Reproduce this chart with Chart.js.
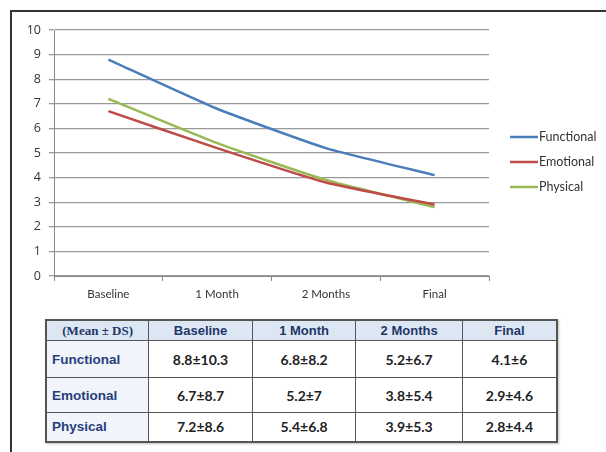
<!DOCTYPE html>
<html>
<head>
<meta charset="utf-8">
<script src="https://cdn.jsdelivr.net/npm/chart.js@4"></script>
<style>
  html, body { margin: 0; padding: 0; background: #fff; }
  body { width: 606px; height: 452px; position: relative; overflow: hidden; }
  .frame {
    position: absolute; left: 10px; top: 10px; right: -10px; bottom: -10px;
    border-top: 2px solid #333; border-left: 2px solid #333;
  }
  #chart-box { position: absolute; left: 0; top: 0; width: 606px; height: 310px; }
  table.stats {
    position: absolute; left: 45px; top: 319px; width: 513px; height: 123px;
    border-collapse: collapse; border: 2px solid #555;
    box-shadow: 1px 1px 2px rgba(0,0,0,0.25);
  }
  table.stats td, table.stats th {
    border: 1.5px solid #555; text-align: center; padding: 0;
    font-family: Lato, "Open Sans", sans-serif; font-weight: bold; font-size: 14px; color: #222;
  }
  table.stats thead th {
    background: #dde7f3; color: #1f3669; height: 19px;
    font-family: "Liberation Sans", Arial, sans-serif; font-size: 13px;
  }
  table.stats thead th.corner { font-family: "Liberation Serif", "Times New Roman", serif; font-size: 13px; }
  table.stats tbody th {
    background: #f1f4fa; color: #263f7c; text-align: left; padding-left: 5px;
    font-family: "Liberation Sans", Arial, sans-serif; font-size: 13.5px;
  }
</style>
</head>
<body>
<div class="frame"></div>
<div id="chart-box"><canvas id="chart"></canvas></div>
<table class="stats" id="stats">
  <colgroup>
    <col style="width:103px"><col style="width:104px"><col style="width:104px"><col style="width:107px"><col style="width:95px">
  </colgroup>
  <thead><tr id="head-row"><th class="corner">(Mean ± DS)</th></tr></thead>
  <tbody id="stats-body"></tbody>
</table>
<script>
// Chart data
const categories = ["Baseline", "1 Month", "2 Months", "Final"];
const functional = [8.8, 6.8, 5.2, 4.1];
const emotional = [6.7, 5.2, 3.8, 2.9];
const physical = [7.2, 5.4, 3.9, 2.8];
const functionalSD = [10.3, 8.2, 6.7, 6];
const emotionalSD = [8.7, 7, 5.4, 4.6];
const physicalSD = [8.6, 6.8, 5.3, 4.4];
const yTicks = [0, 1, 2, 3, 4, 5, 6, 7, 8, 9, 10];

const seriesNames = ["Functional", "Emotional", "Physical"];
const seriesColors = ["#4a7ebb", "#be4b48", "#98b954"];

// Legend drawn at the right side, Excel style
const sideLegend = {
  id: "sideLegend",
  afterDraw(chart) {
    const ctx = chart.ctx;
    ctx.save();
    ctx.font = "12.5px Lato, 'Open Sans', sans-serif";
    ctx.textBaseline = "middle";
    chart.data.datasets.forEach((ds, i) => {
      const y = 137 + i * 25;
      ctx.strokeStyle = ds.borderColor;
      ctx.lineWidth = 2.5;
      ctx.beginPath();
      ctx.moveTo(510, y);
      ctx.lineTo(538, y);
      ctx.stroke();
      ctx.fillStyle = "#333";
      ctx.fillText(ds.label, 539, y);
    });
    ctx.restore();
  }
};

const ctx = document.getElementById("chart").getContext("2d");
new Chart(ctx, {
  type: "line",
  data: {
    labels: categories,
    datasets: [functional, emotional, physical].map((d, i) => ({
      label: seriesNames[i],
      data: d,
      borderColor: seriesColors[i],
      backgroundColor: seriesColors[i],
      borderWidth: 2.5,
      pointRadius: 0,
      tension: 0.15,
    })),
  },
  options: {
    responsive: true,
    maintainAspectRatio: false,
    animation: false,
    layout: { padding: { left: 0, right: 117, top: 30, bottom: 0 } },
    plugins: { legend: { display: false }, tooltip: { enabled: false } },
    scales: {
      x: {
        offset: true,
        afterFit(scale) { scale.height = 34; },
        grid: { offset: true, drawOnChartArea: false, drawTicks: true, tickLength: 5, color: "#888" },
        border: { color: "#888", width: 1 },
        ticks: { color: "#333", font: { family: "Lato, 'Open Sans', sans-serif", size: 11.5 }, padding: 6 },
      },
      y: {
        min: 0,
        max: 10,
        afterFit(scale) { scale.width = 54; },
        afterBuildTicks(scale) { scale.ticks = yTicks.map(v => ({ value: v })); },
        grid: { color: "#999", lineWidth: 1.3, drawTicks: true, tickLength: 5 },
        border: { color: "#888", width: 1 },
        ticks: { color: "#333", font: { family: "'Open Sans', Lato, sans-serif", size: 12.5 }, padding: 8 },
      },
    },
  },
  plugins: [sideLegend],
});

// Table built from the same arrays
const headRow = document.getElementById("head-row");
categories.forEach(c => {
  const th = document.createElement("th");
  th.textContent = c;
  headRow.appendChild(th);
});
const rowHeights = ["37px", "35px", "29px"];
const body = document.getElementById("stats-body");
[[functional, functionalSD], [emotional, emotionalSD], [physical, physicalSD]].forEach((pair, i) => {
  const tr = document.createElement("tr");
  tr.style.height = rowHeights[i];
  const th = document.createElement("th");
  th.textContent = seriesNames[i];
  tr.appendChild(th);
  pair[0].forEach((m, j) => {
    const td = document.createElement("td");
    td.textContent = m + "±" + pair[1][j];
    tr.appendChild(td);
  });
  body.appendChild(tr);
});
</script>
</body>
</html>
